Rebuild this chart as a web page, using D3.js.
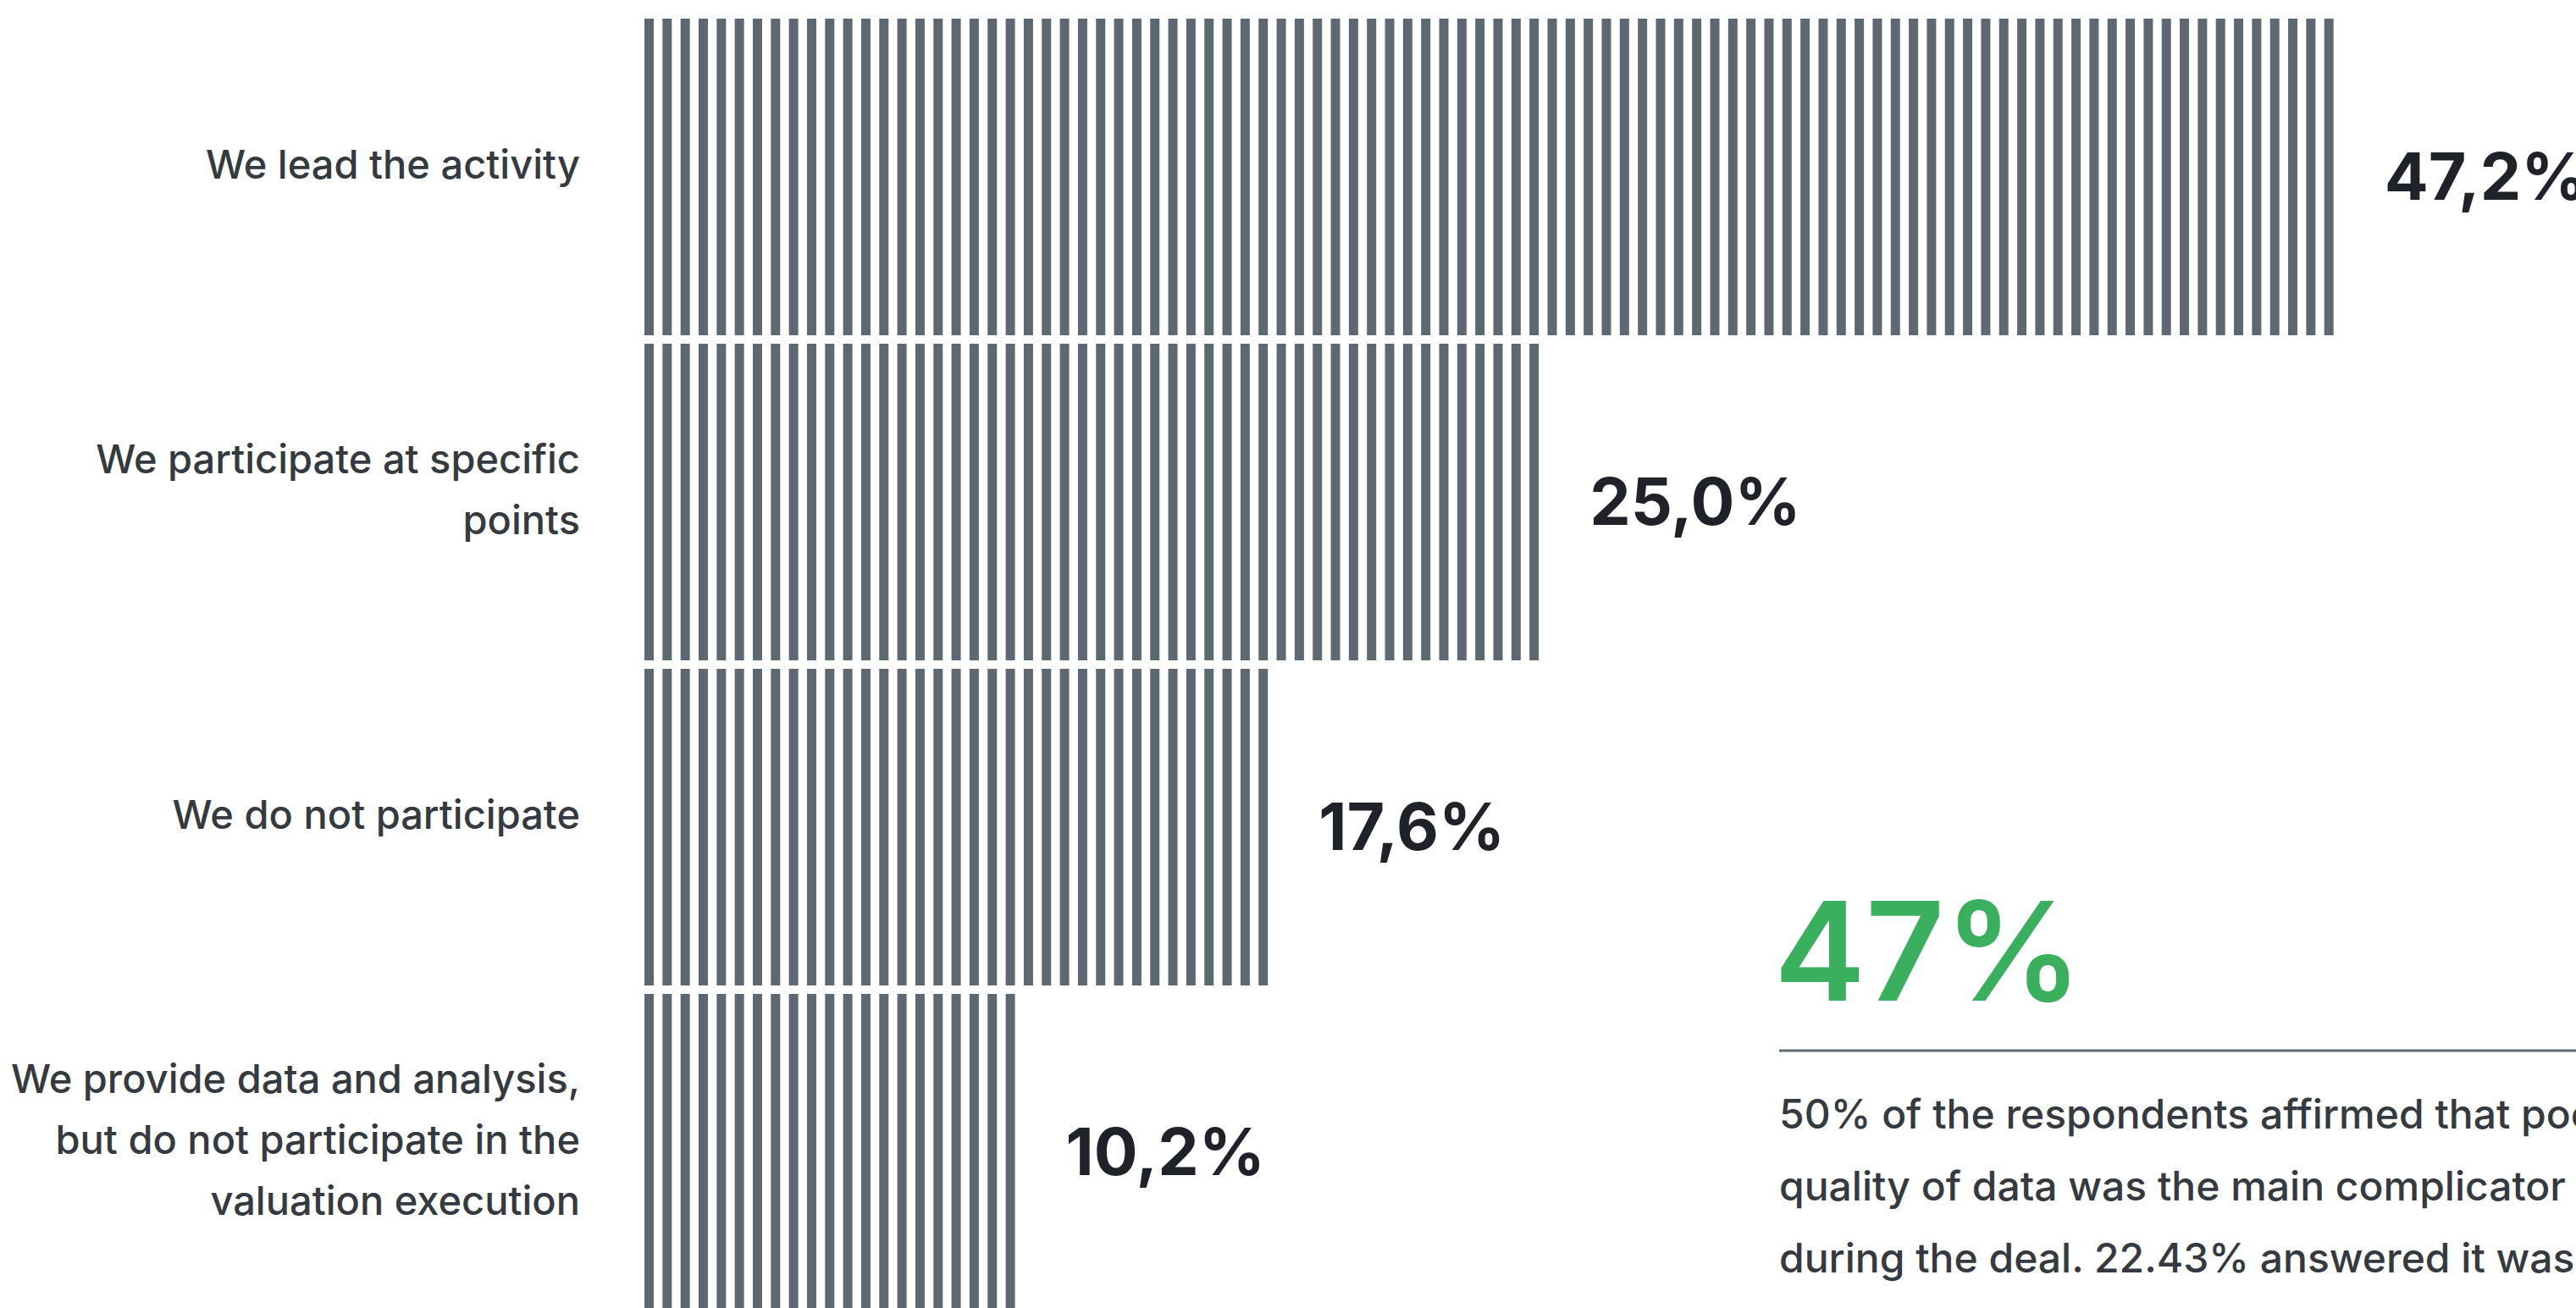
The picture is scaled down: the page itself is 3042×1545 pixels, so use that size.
<!DOCTYPE html>
<html>
<head>
<meta charset="utf-8">
<script src="https://cdn.jsdelivr.net/npm/d3@7"></script>
<style>
  html, body { margin: 0; padding: 0; background: #ffffff; overflow: hidden; }
  svg { display: block; }
</style>
</head>
<body>
<svg id="chart" width="3042" height="1545"></svg>
<script>
// Survey answers: role in the valuation activity
const categories = [
  "We lead the activity",
  "We participate at specific\npoints",
  "We do not participate",
  "We provide data and analysis,\nbut do not participate in the\nvaluation execution"
];
const values = [47.2, 25.0, 17.6, 10.2];
const valueLabels = ["47,2%", "25,0%", "17,6%", "10,2%"];

// Highlight callout
const highlightValue = "47%";
const highlightText = [
  "50% of the respondents affirmed that poor",
  "quality of data was the main complicator",
  "during the deal. 22.43% answered it was"
];

const W = 3042, H = 1545;
const barColor = "#5c6970";
const labelColor = "#343a40";
const valueColor = "#1f2229";
const green = "#3aaf5d";
const font = "Inter, 'Liberation Sans', sans-serif";

const svg = d3.select("#chart");

const x = d3.scaleLinear()
  .domain([0, d3.max(values)])
  .range([761, 2756]);

const y = d3.scaleBand()
  .domain(categories)
  .range([22, 1548])
  .paddingInner(10 / 384)
  .paddingOuter(0);

// Each bar is a row of thin vertical stripes
const stripeW = 11, period = 21.33;

const rows = svg.append("g").selectAll("g.row")
  .data(categories.map((c, i) => ({ c, v: values[i], label: valueLabels[i] })))
  .join("g")
  .attr("class", "row");

rows.each(function(d) {
  const g = d3.select(this);
  const w = x(d.v) - x(0);
  const n = Math.round((w + (period - stripeW)) / period);
  g.selectAll("rect")
    .data(d3.range(n))
    .join("rect")
    .attr("x", i => x(0) + i * period)
    .attr("y", y(d.c))
    .attr("width", stripeW)
    .attr("height", y.bandwidth())
    .attr("fill", barColor);
  d.end = x(0) + (n - 1) * period + stripeW;
});

// Value labels to the right of each bar
rows.append("text")
  .attr("x", d => d.end + 60)
  .attr("y", d => y(d.c) + y.bandwidth() / 2 + 27)
  .attr("font-family", font)
  .attr("font-weight", 700)
  .attr("font-size", 77)
  .attr("fill", valueColor)
  .text(d => d.label);

// Category labels, right-aligned left of the bars
const lineH = 72;
rows.append("text")
  .attr("text-anchor", "end")
  .attr("font-family", font)
  .attr("font-weight", 500)
  .attr("font-size", 47)
  .attr("fill", labelColor)
  .each(function(d) {
    const lines = d.c.split("\n");
    const cy = y(d.c) + y.bandwidth() / 2 - 15;
    const first = cy + 17 - (lines.length - 1) * lineH / 2;
    d3.select(this).selectAll("tspan")
      .data(lines)
      .join("tspan")
      .attr("x", 685)
      .attr("y", (l, i) => first + i * lineH)
      .text(l => l);
  });

// Callout block
const callout = svg.append("g");
callout.append("text")
  .attr("x", 2095)
  .attr("y", 1182)
  .attr("font-family", font)
  .attr("font-weight", 600)
  .attr("font-size", 162)
  .attr("fill", green)
  .text(highlightValue);

callout.append("line")
  .attr("x1", 2101).attr("x2", W)
  .attr("y1", 1241).attr("y2", 1241)
  .attr("stroke", barColor)
  .attr("stroke-width", 3);

callout.append("text")
  .attr("font-family", font)
  .attr("font-weight", 500)
  .attr("font-size", 48)
  .attr("fill", labelColor)
  .selectAll("tspan")
  .data(highlightText)
  .join("tspan")
  .attr("x", 2101)
  .attr("y", (t, i) => 1333 + i * 85)
  .text(t => t);
</script>
</body>
</html>
